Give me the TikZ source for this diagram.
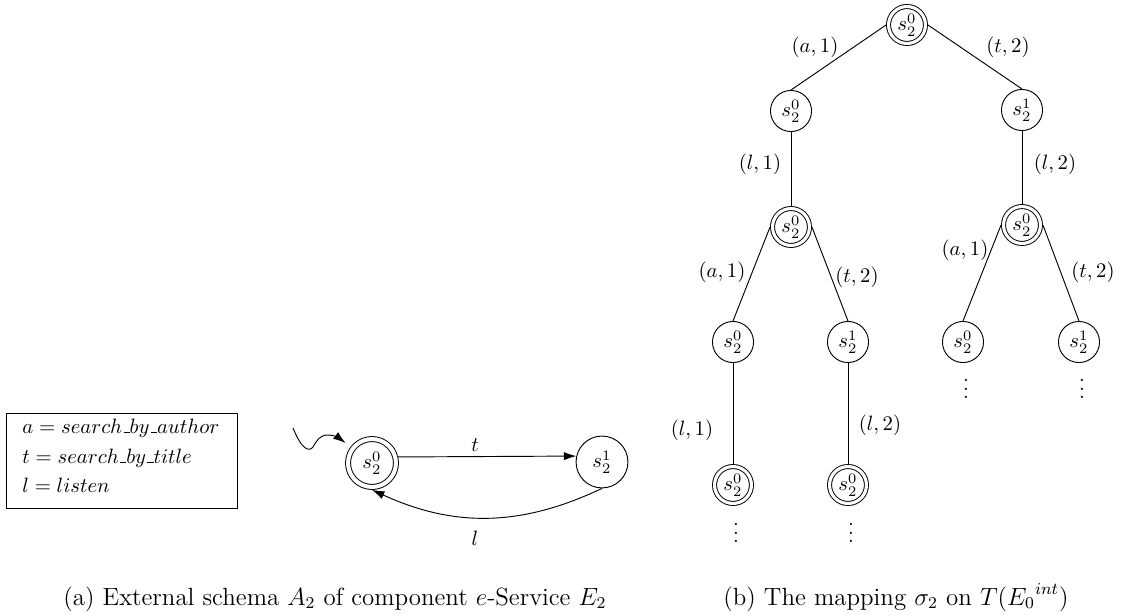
\documentclass[tikz,border=0pt]{standalone}
\usetikzlibrary{arrows.meta}
\newcommand{\lowbar}{\mbox{\kern.06em\vbox{\hrule width.3em}}}
\begin{document}
\begin{tikzpicture}[x=0.482pt,y=-0.482pt,
  st/.style={circle, draw, line width=0.45pt, inner sep=0pt, minimum size=19.8pt},
  stdbl/.style={st, double, double distance=1.5pt, minimum size=17.8pt, outer sep=1.2pt},
  ast/.style={circle, draw, line width=0.45pt, inner sep=0pt, minimum size=25pt},
  astdbl/.style={ast, double, double distance=1.95pt, minimum size=23.1pt, outer sep=1.4pt},
  lbl/.style={inner sep=0pt},
  edgeline/.style={line width=0.45pt},
  arr/.style={line width=0.45pt, -{Latex[length=6pt,width=4pt]}},
  dotsnode/.style={inner sep=0pt, anchor=south},
  capt/.style={inner sep=0pt, anchor=base, font=\fontsize{12}{14}\selectfont}]
\useasboundingbox (0,0) rectangle (1125,615);

% legend
\node[draw, line width=0.45pt, minimum width=110.9pt, minimum height=45.8pt, inner sep=0pt] (legend) at (122,460.5) {};
\node[lbl, anchor=base west] (la) at (22,433) {$a = search\lowbar by\lowbar author$};
\node[lbl, anchor=base west] (lt) at (22,463) {$t = search\lowbar by\lowbar title$};
\node[lbl, anchor=base west] (ll) at (22,492) {$l = listen$};

% automaton
\node[astdbl] (s0) at (372,463) {$s_2^0$};
\node[ast] (s1) at (602,462) {$s_2^1$};
\coordinate (init) at (293,428);
\draw[arr, shorten >=3pt] (init) .. controls (302,450) and (309,452) .. (313,447)
  .. controls (317,440) and (320,435) .. (328,435)
  .. controls (334,435) and (339,438) .. (s0);
\draw[arr] (s0.13) -- (s1.167);
\draw[arr] (s1.south) to[bend left=25] (s0.south);
\node[lbl] (tl) at (475,445) {$t$};
\node[lbl] (ll2) at (475,538) {$l$};

% tree
\node[stdbl] (r) at (907,25) {$s_2^0$};
\node[st] (a1) at (791,111) {$s_2^0$};
\node[st] (b1) at (1022,110) {$s_2^1$};
\node[stdbl] (a2) at (791,227) {$s_2^0$};
\node[stdbl] (b2) at (1022,225) {$s_2^0$};
\node[st] (a3) at (733,342) {$s_2^0$};
\node[st] (c3) at (848,342) {$s_2^1$};
\node[st] (b3) at (963,342) {$s_2^0$};
\node[st] (d3) at (1079,342) {$s_2^1$};
\node[stdbl] (a4) at (733,485) {$s_2^0$};
\node[stdbl] (c4) at (848,485) {$s_2^0$};

\draw[edgeline] (r.west) -- (a1.north);
\draw[edgeline] (r.east) -- (b1.north);
\draw[edgeline] (a1.south) -- (a2.north);
\draw[edgeline] (b1.south) -- (b2.north);
\draw[edgeline] (a2.west) -- (a3.north);
\draw[edgeline] (a2.east) -- (c3.north);
\draw[edgeline] (b2.west) -- (b3.north);
\draw[edgeline] (b2.east) -- (d3.north);
\draw[edgeline] (a3.south) -- (a4.north);
\draw[edgeline] (c3.south) -- (c4.north);

\node[lbl] (e1) at (815,47) {$(a,1)$};
\node[lbl] (e2) at (1008,47) {$(t,2)$};
\node[lbl] (e3) at (760,164) {$(l,1)$};
\node[lbl] (e4) at (1055,164) {$(l,2)$};
\node[lbl] (e5) at (722,272) {$(a,1)$};
\node[lbl] (e6) at (857,277) {$(t,2)$};
\node[lbl] (e7) at (965,250) {$(a,1)$};
\node[lbl] (e8) at (1093,272) {$(t,2)$};
\node[lbl] (e9) at (692,430) {$(l,1)$};
\node[lbl] (e10) at (880,425) {$(l,2)$};

\node[dotsnode] (v1) at (966,399) {$\vdots$};
\node[dotsnode] (v2) at (1082,399) {$\vdots$};
\node[dotsnode] (v3) at (736,543) {$\vdots$};
\node[dotsnode] (v4) at (851,543) {$\vdots$};

% captions
\node[capt] (ca) at (335,605) {(a) External schema $A_2$ of component $e$-Service $E_2$};
\node[capt] (cb) at (896,605) {(b) The mapping $\sigma_2$ on $T({E_0}^{int})$};
\end{tikzpicture}
\end{document}
